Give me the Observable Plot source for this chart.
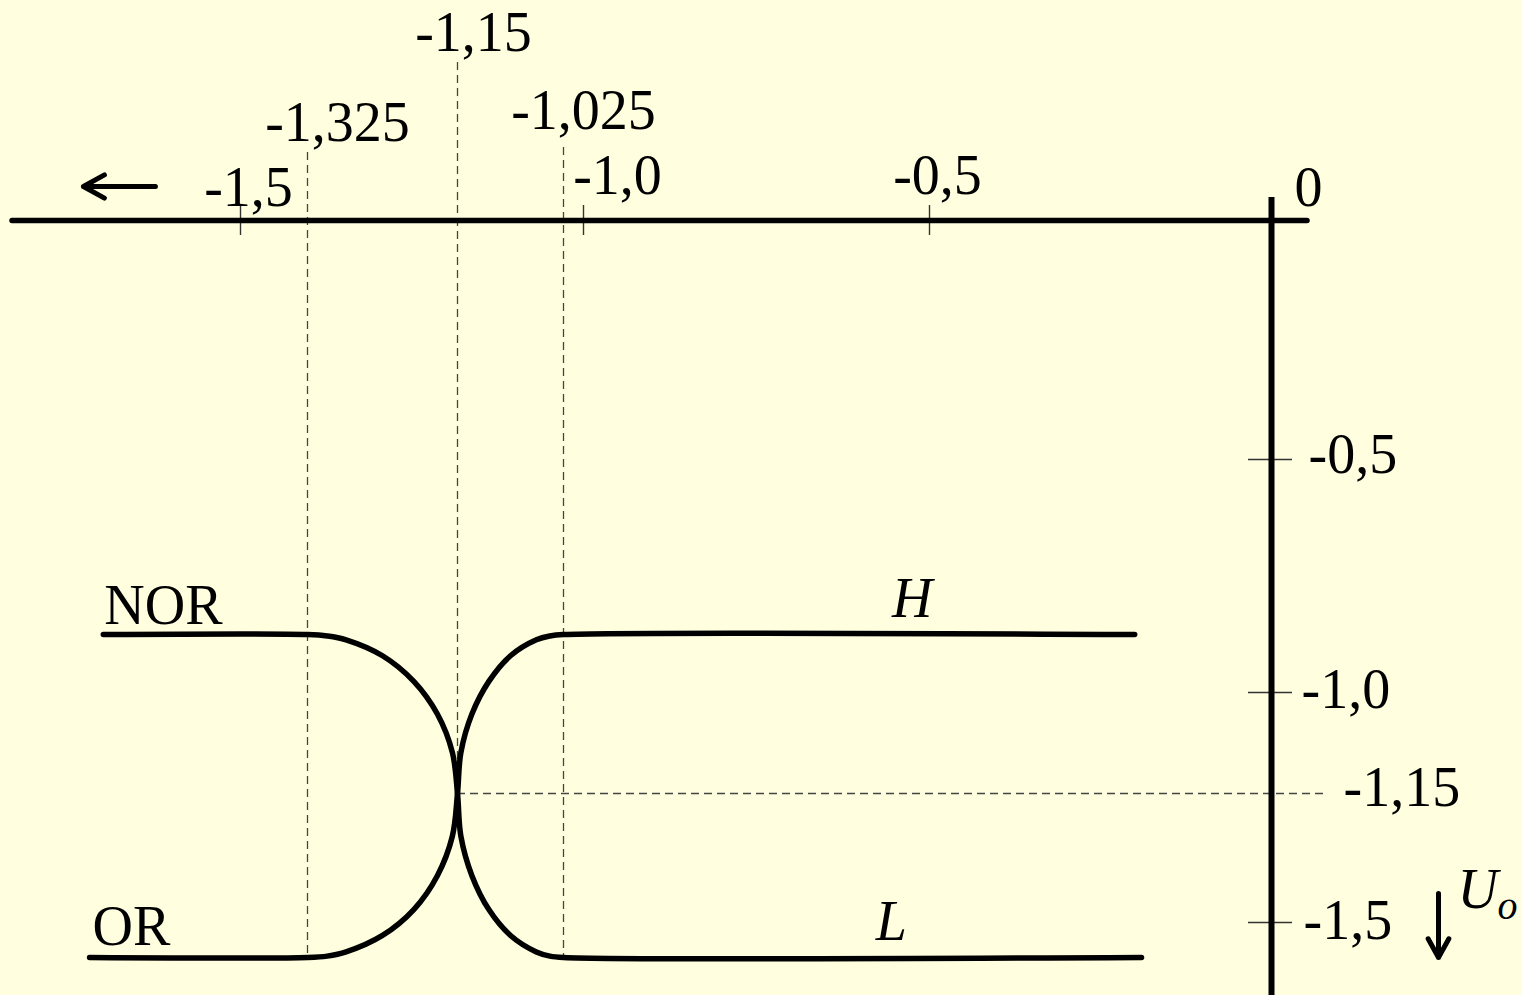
<!DOCTYPE html>
<html>
<head>
<meta charset="utf-8">
<script src="https://cdn.jsdelivr.net/npm/d3@7"></script>
<script src="https://cdn.jsdelivr.net/npm/@observablehq/plot@0.6"></script>
<style>
  html, body { margin: 0; padding: 0; background: #ffffe0; }
  #chart svg { display: block; }
</style>
</head>
<body>
<div id="chart"></div>
<script>
// ---------------- DATA ----------------
// input axis (U_i, horizontal) ticks
const xTicks = [-1.5, -1.0, -0.5, 0];
const xTickLabels = ["-1,5", "-1,0", "-0,5", "0"];
// output axis (U_o, vertical) ticks
const yTicks = [-0.5, -1.0, -1.5];
const yTickLabels = ["-0,5", "-1,0", "-1,5"];
// input thresholds (dashed verticals)
const xMarks = [-1.325, -1.15, -1.025];
const xMarkLabels = ["-1,325", "-1,15", "-1,025"];
// switching output level (dashed horizontal)
const yMark = -1.15;
const yMarkLabel = "-1,15";
// output levels
const levelH = -0.88;
const levelL = -1.6;
// transition arcs (top to bottom)
const arcLeftX  = [-1.325, -1.302, -1.280, -1.2375, -1.201, -1.1735, -1.156, -1.15, -1.156, -1.1735, -1.201, -1.2375, -1.280, -1.302, -1.325];
const arcLeftY  = [-0.88, -0.883, -0.891, -0.924, -0.977, -1.032, -1.089, -1.15, -1.266, -1.373, -1.465, -1.537, -1.584, -1.596, -1.6];
const arcRightX = [-1.025, -1.041, -1.057, -1.0875, -1.113, -1.133, -1.146, -1.15, -1.146, -1.133, -1.113, -1.0875, -1.057, -1.041, -1.025];
const arcRightY = [-0.88, -0.883, -0.891, -0.924, -0.977, -1.032, -1.089, -1.15, -1.266, -1.373, -1.465, -1.537, -1.584, -1.596, -1.6];
// flat line extents
const norStartX = -1.7, norEndX = -0.19;
const orStartX = -1.72, orEndX = -0.2;
const seriesNames = ["NOR", "OR"];
const levelNames = ["H", "L"];

// ---------------- BUILD SERIES ----------------
const mid = arcLeftX.indexOf(xMarks[1]);
const norPts = [{x: norStartX, y: levelH}];
for (let i = 0; i <= mid; i++) norPts.push({x: arcLeftX[i], y: arcLeftY[i]});
for (let i = mid + 1; i < arcRightX.length; i++) norPts.push({x: arcRightX[i], y: arcRightY[i]});
norPts.push({x: norEndX, y: levelL});

const orPts = [{x: orStartX, y: levelL}];
for (let i = arcLeftX.length - 1; i >= mid; i--) orPts.push({x: arcLeftX[i], y: arcLeftY[i]});
for (let i = mid - 1; i >= 0; i--) orPts.push({x: arcRightX[i], y: arcRightY[i]});
orPts.push({x: orEndX, y: levelH});

// ---------------- LAYOUT (schematic drawing, not to scale) ----------------
const W = 1522, H = 995;
const xBreaks = [-2, -1.5, xMarks[0], xMarks[1], xMarks[2], -1.0, -0.5, 0];
const xPix    = [-103, 240, 307, 457, 563, 583, 929, 1271];
const yBreaks = [0, -0.5, levelH, -1.0, yMark, -1.5, levelL];
const yPix    = [220, 459, 634, 692, 793, 922, 957];
const xMap = d3.scaleLinear().domain(xBreaks).range(xPix);
const yMap = d3.scaleLinear().domain(yBreaks.slice().reverse()).range(yPix.slice().reverse());

const FONT = "Liberation Serif, Times New Roman, serif";
const FS = 56;
const DASH = "8,5";
const DASHC = "#444";

const xTickLab = [{dx: 8, dy: -15}, {dx: 34, dy: -27}, {dx: 8, dy: -27}, {dx: 37, dy: -15}];
const yTickLab = [{dx: 37, dy: 13}, {dx: 30, dy: 15}, {dx: 32, dy: 16}];
const xMarkLab = [{dx: 30, dy: -80, top: -68}, {dx: 16, dy: -170, top: -158}, {dx: 20, dy: -92, top: -73}];

function label(t, x, y, o) {
  return Plot.text([{x, y, t}], Object.assign({
    x: "x", y: "y", text: "t", lineAnchor: "bottom", textAnchor: "middle",
    fontFamily: FONT, fontSize: FS, fill: "#000"
  }, o));
}

const marks = [];
// dashed guide lines
const bottoms = [levelL, yMark, levelL];
xMarks.forEach((v, i) => {
  marks.push(Plot.ruleX([v], {x: d => d, y1: 0, y2: bottoms[i], insetTop: xMarkLab[i].top, stroke: DASHC, strokeWidth: 1.3, strokeDasharray: DASH}));
  marks.push(label(xMarkLabels[i], v, 0, {dx: xMarkLab[i].dx, dy: xMarkLab[i].dy}));
});
marks.push(Plot.ruleY([yMark], {y: d => d, x1: xMarks[1], x2: 0, insetRight: -57, stroke: DASHC, strokeWidth: 1.3, strokeDasharray: DASH}));
marks.push(label(yMarkLabel, 0, yMark, {dx: 72, dy: 12, textAnchor: "start"}));

// ticks
marks.push(Plot.ruleX(xTicks.filter(v => v !== 0), {x: d => d, y1: 0, y2: 0, insetTop: -15, insetBottom: -15, stroke: "#333", strokeWidth: 1.4}));
marks.push(Plot.ruleY(yTicks, {y: d => d, x1: 0, x2: 0, insetLeft: -23, insetRight: -21, stroke: "#333", strokeWidth: 1.4}));

// axes
marks.push(Plot.ruleY([0], {y: d => d, stroke: "#000", strokeWidth: 5.5, strokeLinecap: "round"}));
marks.push(Plot.ruleX([0], {x: d => d, stroke: "#000", strokeWidth: 6}));

// tick labels
xTicks.forEach((v, i) => marks.push(label(xTickLabels[i], v, 0, {dx: xTickLab[i].dx, dy: xTickLab[i].dy})));
yTicks.forEach((v, i) => marks.push(label(yTickLabels[i], 0, v, {dx: yTickLab[i].dx, dy: yTickLab[i].dy, textAnchor: "start"})));

// curves
marks.push(Plot.line(norPts, {x: "x", y: "y", curve: "catmull-rom", stroke: "#000", strokeWidth: 5.5, strokeLinecap: "round"}));
marks.push(Plot.line(orPts, {x: "x", y: "y", curve: "catmull-rom", stroke: "#000", strokeWidth: 5.5, strokeLinecap: "round"}));

// series and level labels
marks.push(label(seriesNames[0], norStartX, levelH, {dx: 1, dy: -11, textAnchor: "start"}));
marks.push(label(seriesNames[1], orStartX, levelL, {dx: 3, dy: -13, textAnchor: "start"}));
marks.push(label(levelNames[0], -0.525, levelH, {dy: -18, fontStyle: "italic"}));
marks.push(label(levelNames[1], -0.555, levelL, {dy: -18, fontStyle: "italic"}));

// axis direction arrows and U_o
marks.push(Plot.arrow([{}], {x1: () => -1.624, x2: () => -1.729, y1: () => 0, y2: () => 0, dy: -34, stroke: "#000", strokeWidth: 5, headLength: 14, headAngle: 58}));
marks.push(Plot.arrow([{}], {x1: () => 0, x2: () => 0, y1: () => -1.421, y2: () => levelL, dx: 167, stroke: "#000", strokeWidth: 5, headLength: 14, headAngle: 58}));
marks.push(label("U", 0, -1.5, {dx: 186, dy: -15, textAnchor: "start", fontStyle: "italic"}));
marks.push(label("o", 0, -1.5, {dx: 226, dy: -4, textAnchor: "start", fontStyle: "italic", fontSize: 40}));

const chart = Plot.plot({
  width: W,
  height: H,
  marginLeft: 12,
  marginRight: W - 1307,
  marginTop: 197,
  marginBottom: 0,
  style: {background: "#ffffe0", overflow: "visible"},
  x: {type: "linear", domain: [0, W], range: [0, W], transform: xMap, axis: null},
  y: {type: "linear", domain: [0, H], range: [0, H], transform: yMap, axis: null},
  marks
});
document.getElementById("chart").appendChild(chart);
</script>
</body>
</html>
